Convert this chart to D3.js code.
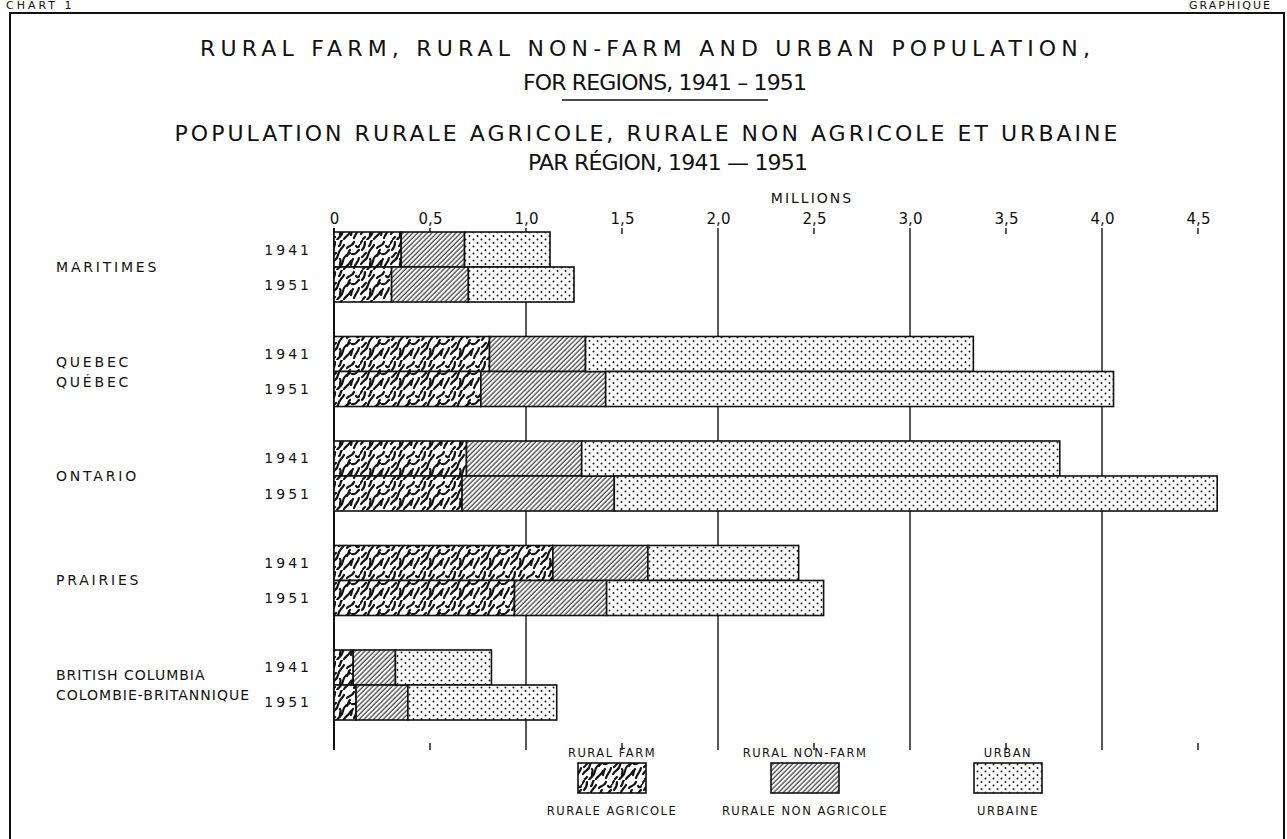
<!DOCTYPE html>
<html>
<head>
<meta charset="utf-8">
<script src="https://cdn.jsdelivr.net/npm/d3@7"></script>
<style>
    body { margin: 0; background: #fff; }
    svg text { font-family: "DejaVu Sans", sans-serif; fill: #111; }
</style>
</head>
<body>
<script>
"use strict";

// Regions (top to bottom) and their printed labels
const regions = ["MARITIMES", "QUEBEC", "ONTARIO", "PRAIRIES", "BRITISH COLUMBIA"];
const regionLabels = [
    ["MARITIMES"],
    ["QUEBEC", "QUÉBEC"],
    ["ONTARIO"],
    ["PRAIRIES"],
    ["BRITISH COLUMBIA", "COLOMBIE-BRITANNIQUE"]
];
const years = ["1941", "1951"];

// Population in millions, one value per region (same order as regions)
const ruralFarm1941 = [0.35, 0.81, 0.69, 1.14, 0.10];
const ruralFarm1951 = [0.30, 0.765, 0.667, 0.94, 0.115];
const ruralNonFarm1941 = [0.33, 0.50, 0.60, 0.495, 0.22];
const ruralNonFarm1951 = [0.40, 0.65, 0.793, 0.48, 0.27];
const urban1941 = [0.445, 2.02, 2.49, 0.785, 0.50];
const urban1951 = [0.55, 2.645, 3.14, 1.13, 0.775];

// Axis
const tickValues = [0, 0.5, 1, 1.5, 2, 2.5, 3, 3.5, 4, 4.5];
const tickLabels = ["0", "0,5", "1,0", "1,5", "2,0", "2,5", "3,0", "3,5", "4,0", "4,5"];
const gridValues = [1, 2, 3, 4];

// Legend
const seriesKeys = ["farm", "nonfarm", "urban"];
const legendTop = ["RURAL FARM", "RURAL NON-FARM", "URBAN"];
const legendBottom = ["RURALE AGRICOLE", "RURALE NON AGRICOLE", "URBAINE"];

(function(){
    const W = 1287, H = 839;
    const svg = d3.select("body").append("svg")
        .attr("width", W)
        .attr("height", H);

    // ---------- fill patterns ----------
    const defs = svg.append("defs");

    // wormy black texture for rural farm
    const farm = defs.append("pattern")
        .attr("id", "pat-farm")
        .attr("patternUnits", "userSpaceOnUse")
        .attr("width", 30).attr("height", 30);
    farm.append("rect").attr("width", 30).attr("height", 30).attr("fill", "#fff");
    const worms = [
        "M1,24 C4,19 7,21 8,15 S12,9 14,5",
        "M7,30 C9,26 12,27 13,21 S17,15 20,13",
        "M14,29 C16,26 19,25 21,21",
        "M17,8 C19,5 22,7 24,2",
        "M24,28 C25,24 28,23 29,18",
        "M2,10 C4,8 5,6 5,2",
        "M9,6 C11,5 10,2 12,0",
        "M29,10 C26,12 27,15 22,14",
        "M2,17 C4,16 4,14 6,13",
        "M10,19 C12,21 9,23 10,26",
        "M0,4 L2,1",
        "M21,25 C22,23 21,21 23,19",
        "M17,16 C19,14 18,11 20,10",
        "M26,6 C27,8 29,7 30,5",
        "M3,29 L5,27"
    ];
    farm.selectAll("path")
        .data(worms)
        .enter()
        .append("path")
        .attr("d", d => d)
        .attr("fill", "none")
        .attr("stroke", "#111")
        .attr("stroke-width", 2.2)
        .attr("stroke-linecap", "round");

    // diagonal hatching for rural non-farm
    const hatch = defs.append("pattern")
        .attr("id", "pat-nonfarm")
        .attr("patternUnits", "userSpaceOnUse")
        .attr("width", 3.4).attr("height", 3.4)
        .attr("patternTransform", "rotate(45)");
    hatch.append("rect").attr("width", 3.4).attr("height", 3.4).attr("fill", "#fff");
    hatch.append("line")
        .attr("x1", 1).attr("y1", 0).attr("x2", 1).attr("y2", 3.4)
        .attr("stroke", "#111").attr("stroke-width", 1);

    // sparse dots for urban
    const dots = defs.append("pattern")
        .attr("id", "pat-urban")
        .attr("patternUnits", "userSpaceOnUse")
        .attr("width", 8).attr("height", 7);
    dots.append("rect").attr("width", 8).attr("height", 7).attr("fill", "#fff");
    dots.append("circle").attr("cx", 1.5).attr("cy", 1.5).attr("r", 0.95).attr("fill", "#111");
    dots.append("circle").attr("cx", 5.5).attr("cy", 5).attr("r", 0.95).attr("fill", "#111");

    const fills = { farm: "url(#pat-farm)", nonfarm: "url(#pat-nonfarm)", urban: "url(#pat-urban)" };

    // ---------- frame & corner captions ----------
    svg.append("rect")
        .attr("x", 10).attr("y", 13)
        .attr("width", 1274).attr("height", 860)
        .attr("fill", "none")
        .attr("stroke", "#111")
        .attr("stroke-width", 2);

    svg.append("text")
        .attr("x", 6).attr("y", 9)
        .attr("font-size", 11)
        .attr("letter-spacing", 3)
        .text("CHART 1");
    svg.append("text")
        .attr("x", 1272).attr("y", 9)
        .attr("text-anchor", "end")
        .attr("font-size", 11)
        .attr("letter-spacing", 2)
        .text("GRAPHIQUE");

    // ---------- titles ----------
    const titles = [
        { t: "RURAL FARM, RURAL NON-FARM AND URBAN POPULATION,", x: 645, y: 56, w: 890 },
        { t: "FOR REGIONS, 1941 – 1951", x: 665, y: 90, w: 284 },
        { t: "POPULATION RURALE AGRICOLE, RURALE NON AGRICOLE ET URBAINE", x: 646, y: 141, w: 943 },
        { t: "PAR RÉGION, 1941 — 1951", x: 668, y: 170, w: 280 }
    ];
    svg.selectAll(".title")
        .data(titles)
        .enter()
        .append("text")
        .attr("class", "title")
        .attr("x", d => d.x)
        .attr("y", d => d.y)
        .attr("text-anchor", "middle")
        .attr("font-size", 22)
        .attr("textLength", d => d.w)
        .attr("lengthAdjust", "spacing")
        .text(d => d.t);

    svg.append("line")
        .attr("x1", 562).attr("x2", 768)
        .attr("y1", 100).attr("y2", 100)
        .attr("stroke", "#111").attr("stroke-width", 1.6);

    // ---------- scales ----------
    const plotTop = 232, plotBottom = 720;
    const x = d3.scaleLinear()
        .domain([0, 4.5])
        .range([334, 1198]);
    const yGroup = d3.scaleBand()
        .domain(regions)
        .range([plotTop, plotBottom])
        .paddingInner(0.33)
        .paddingOuter(0);
    const yYear = d3.scaleBand()
        .domain(years)
        .range([0, yGroup.bandwidth()]);

    // ---------- axis, grid and ticks ----------
    svg.append("text")
        .attr("x", 812).attr("y", 203)
        .attr("text-anchor", "middle")
        .attr("font-size", 14)
        .attr("letter-spacing", 2)
        .text("MILLIONS");

    const xAxis = d3.axisTop(x)
        .tickValues(tickValues)
        .tickSize(0)
        .tickPadding(0)
        .tickFormat((d, i) => tickLabels[i]);
    const axisG = svg.append("g")
        .attr("transform", "translate(0,224)")
        .call(xAxis);
    axisG.select(".domain").remove();
    axisG.selectAll("text")
        .attr("font-size", 15)
        .attr("font-family", "DejaVu Sans, sans-serif")
        .attr("fill", "#111");

    // short ticks at top and bottom
    [[228, 234], [743, 750]].forEach(([y1, y2]) => {
        svg.append("g").selectAll("line")
            .data(tickValues.filter(v => v > 0 && gridValues.indexOf(v) < 0))
            .enter()
            .append("line")
            .attr("x1", d => x(d)).attr("x2", d => x(d))
            .attr("y1", y1).attr("y2", y2)
            .attr("stroke", "#111").attr("stroke-width", 1.4);
    });

    // full-height lines at whole millions
    svg.append("g").selectAll("line")
        .data(gridValues)
        .enter()
        .append("line")
        .attr("x1", d => x(d)).attr("x2", d => x(d))
        .attr("y1", 228).attr("y2", 750)
        .attr("stroke", "#111").attr("stroke-width", 1.4);

    // zero line
    svg.append("line")
        .attr("x1", x(0)).attr("x2", x(0))
        .attr("y1", 228).attr("y2", 750)
        .attr("stroke", "#111").attr("stroke-width", 2);

    // ---------- bars ----------
    const rows = [];
    regions.forEach((r, i) => {
        rows.push({ region: r, year: "1941", farm: ruralFarm1941[i], nonfarm: ruralNonFarm1941[i], urban: urban1941[i] });
        rows.push({ region: r, year: "1951", farm: ruralFarm1951[i], nonfarm: ruralNonFarm1951[i], urban: urban1951[i] });
    });
    const stacked = d3.stack().keys(seriesKeys)(rows);

    svg.append("g").selectAll("g")
        .data(stacked)
        .enter()
        .append("g")
        .attr("fill", s => fills[s.key])
        .selectAll("rect")
        .data(s => s)
        .enter()
        .append("rect")
        .attr("x", d => x(d[0]))
        .attr("width", d => x(d[1]) - x(d[0]))
        .attr("y", d => yGroup(d.data.region) + yYear(d.data.year))
        .attr("height", yYear.bandwidth())
        .attr("stroke", "#111")
        .attr("stroke-width", 1.6);

    // ---------- region and year labels ----------
    regions.forEach((r, i) => {
        const cy = yGroup(r) + yGroup.bandwidth() / 2;
        const lines = regionLabels[i];
        lines.forEach((t, j) => {
            const off = lines.length === 1 ? 0 : (j === 0 ? -10 : 10);
            svg.append("text")
                .attr("x", 56)
                .attr("y", cy + off + 5)
                .attr("font-size", 14)
                .attr("letter-spacing", t.length > 12 ? 1 : 2.8)
                .text(t);
        });
        years.forEach(yr => {
            svg.append("text")
                .attr("x", 312)
                .attr("y", yGroup(r) + yYear(yr) + yYear.bandwidth() / 2 + 5)
                .attr("text-anchor", "end")
                .attr("font-size", 14)
                .attr("letter-spacing", 3)
                .text(yr);
        });
    });

    // ---------- legend ----------
    const legendX = [612, 805, 1008];
    const legend = svg.append("g").selectAll("g")
        .data(seriesKeys)
        .enter()
        .append("g")
        .attr("transform", (d, i) => `translate(${legendX[i]},0)`);
    legend.append("text")
        .attr("y", 757)
        .attr("text-anchor", "middle")
        .attr("font-size", 11.5)
        .attr("letter-spacing", 1.5)
        .text((d, i) => legendTop[i]);
    legend.append("rect")
        .attr("x", -34).attr("y", 763)
        .attr("width", 68).attr("height", 30)
        .attr("fill", d => fills[d])
        .attr("stroke", "#111")
        .attr("stroke-width", 1.6);
    legend.append("text")
        .attr("y", 815)
        .attr("text-anchor", "middle")
        .attr("font-size", 11.5)
        .attr("letter-spacing", 1.5)
        .text((d, i) => legendBottom[i]);
})();
</script>
</body>
</html>
